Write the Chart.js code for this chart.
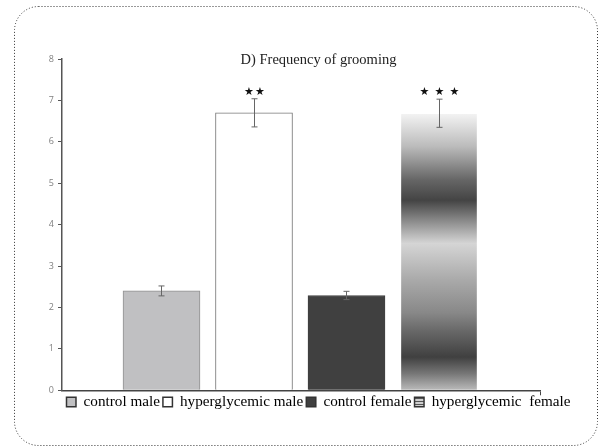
<!DOCTYPE html>
<html>
<head>
<meta charset="utf-8">
<script src="https://cdn.jsdelivr.net/npm/chart.js@4.4.1/dist/chart.umd.min.js"></script>
<style>
  html, body { margin: 0; padding: 0; background: #fff; }
  #wrap { width: 601px; height: 446px; }
</style>
</head>
<body>
<div id="wrap"><canvas id="chart" width="601" height="446"></canvas></div>
<script>
// 数据
const categories = ['control male', 'hyperglycemic male', 'control female', 'hyperglycemic  female'];
const means = [2.4, 6.7, 2.29, 6.69];
const errors = [0.12, 0.34, 0.1, 0.34];
const significance = ['', '**', '', '***'];
const yTicks = [0, 1, 2, 3, 4, 5, 6, 7, 8];

(function() {
    'use strict';

    const fills = ['#c0c0c2', '#ffffff', '#404040', null];
    const borders = ['#909090', '#777777', '#404040', 'rgba(0,0,0,0)'];

    // 第四根柱子的渐变
    function stripeGradient(chart) {
        const y = chart.scales.y;
        if (!y) return '#999';
        const top = y.getPixelForValue(means[3]);
        const bottom = y.getPixelForValue(0);
        const g = chart.ctx.createLinearGradient(0, top, 0, bottom);
        g.addColorStop(0, '#f4f4f4');
        g.addColorStop(0.12, '#bbbbbb');
        g.addColorStop(0.24, '#666666');
        g.addColorStop(0.314, '#444444');
        g.addColorStop(0.386, '#888888');
        g.addColorStop(0.47, '#d5d5d5');
        g.addColorStop(0.6, '#aaaaaa');
        g.addColorStop(0.72, '#888888');
        g.addColorStop(0.79, '#666666');
        g.addColorStop(0.88, '#404040');
        g.addColorStop(0.94, '#777777');
        g.addColorStop(1, '#bbbbbb');
        return g;
    }

    // 图例用的条纹小方块
    function stripePattern() {
        const c = document.createElement('canvas');
        c.width = 4; c.height = 3;
        const x = c.getContext('2d');
        x.fillStyle = '#cfcfcf';
        x.fillRect(0, 0, 4, 3);
        x.fillStyle = '#555';
        x.fillRect(0, 2, 4, 1);
        return x.createPattern(c, 'repeat');
    }

    // 误差线和星号
    const errorBars = {
        id: 'errorBars',
        afterDatasetsDraw(chart) {
            const { ctx, scales: { x, y } } = chart;
            ctx.save();
            ctx.strokeStyle = '#666';
            ctx.lineWidth = 1;
            means.forEach((m, i) => {
                const px = Math.round(x.getPixelForValue(i)) + 0.5;
                const top = y.getPixelForValue(m + errors[i]);
                const bot = y.getPixelForValue(m - errors[i]);
                ctx.beginPath();
                ctx.moveTo(px, top); ctx.lineTo(px, bot);
                ctx.moveTo(px - 3, top); ctx.lineTo(px + 3, top);
                ctx.moveTo(px - 3, bot); ctx.lineTo(px + 3, bot);
                ctx.stroke();

                const n = significance[i].length;
                if (n) {
                    ctx.fillStyle = '#111';
                    ctx.font = '11px "DejaVu Sans"';
                    ctx.textAlign = 'center';
                    ctx.textBaseline = 'middle';
                    const gap = n === 2 ? 11 : 15;
                    for (let k = 0; k < n; k++) {
                        ctx.fillText('\u2605', px + (k - (n - 1) / 2) * gap, top - 7);
                    }
                }
            });
            ctx.restore();
        }
    };

    // 外框虚线圆角
    const frame = {
        id: 'frame',
        beforeDraw(chart) {
            const ctx = chart.ctx;
            ctx.save();
            ctx.fillStyle = '#fff';
            ctx.fillRect(0, 0, chart.width, chart.height);
            ctx.strokeStyle = '#333';
            ctx.lineWidth = 1;
            ctx.setLineDash([1, 2]);
            ctx.beginPath();
            ctx.roundRect(14.5, 6.5, 583, 439, 24);
            ctx.stroke();
            ctx.restore();
        }
    };

    function init() {
        const ctx = document.getElementById('chart').getContext('2d');
        const pattern = stripePattern();

        new Chart(ctx, {
            type: 'bar',
            data: {
                datasets: [{
                    data: means.map((v, i) => ({ x: i, y: v })),
                    backgroundColor: (c) => c.dataIndex === 3 ? stripeGradient(c.chart) : fills[c.dataIndex],
                    borderColor: borders,
                    borderWidth: 1,
                    borderSkipped: 'bottom',
                    barThickness: 77
                }]
            },
            options: {
                responsive: false,
                devicePixelRatio: 1,
                animation: false,
                layout: {
                    padding: { left: 46, right: 10, top: 0, bottom: 26.5 }
                },
                plugins: {
                    title: {
                        display: true,
                        text: 'D) Frequency of grooming',
                        color: '#222',
                        font: { family: '"Liberation Serif"', size: 14.5, weight: 'normal' },
                        padding: { top: 51, bottom: -9.4 }
                    },
                    legend: {
                        position: 'bottom',
                        onClick: null,
                        labels: {
                            color: '#222',
                            font: { family: '"Liberation Serif"', size: 15.2 },
                            boxWidth: 9.5,
                            boxHeight: 9.5,
                            padding: 3,
                            generateLabels: () => categories.map((c, i) => ({
                                text: c,
                                fillStyle: i === 3 ? pattern : fills[i],
                                strokeStyle: '#333',
                                lineWidth: 1.5,
                                hidden: false,
                                index: i
                            }))
                        }
                    },
                    tooltip: { enabled: false }
                },
                scales: {
                    x: {
                        type: 'linear',
                        offset: false,
                        min: -1.0757,
                        max: 4.092,
                        afterBuildTicks: (s) => { s.ticks = [{ value: s.max }]; },
                        afterFit: (s) => { s.height = 1; },
                        ticks: { display: false },
                        grid: { offset: false, drawOnChartArea: false, color: '#444', tickLength: 5, lineWidth: 1 },
                        border: { color: '#444', width: 1.5 }
                    },
                    y: {
                        min: 0,
                        max: 8,
                        afterBuildTicks: (s) => { s.ticks = yTicks.map(v => ({ value: v })); },
                        afterFit: (s) => { s.width = 16; },
                        ticks: {
                            color: '#808080',
                            padding: 4,
                            font: { family: '"Open Sans"', size: 9 }
                        },
                        grid: { drawOnChartArea: false, color: '#555', tickLength: 4, lineWidth: 1 },
                        border: { color: '#555', width: 1.5 }
                    },
                    yR: {
                        type: 'linear',
                        position: 'right',
                        afterFit: (s) => { s.width = 51; },
                        ticks: { display: false },
                        grid: { display: false },
                        border: { display: false }
                    }
                }
            },
            plugins: [frame, errorBars]
        });
    }

    if (document.readyState === 'loading') {
        document.addEventListener('DOMContentLoaded', init);
    } else {
        init();
    }
})();
</script>
</body>
</html>
